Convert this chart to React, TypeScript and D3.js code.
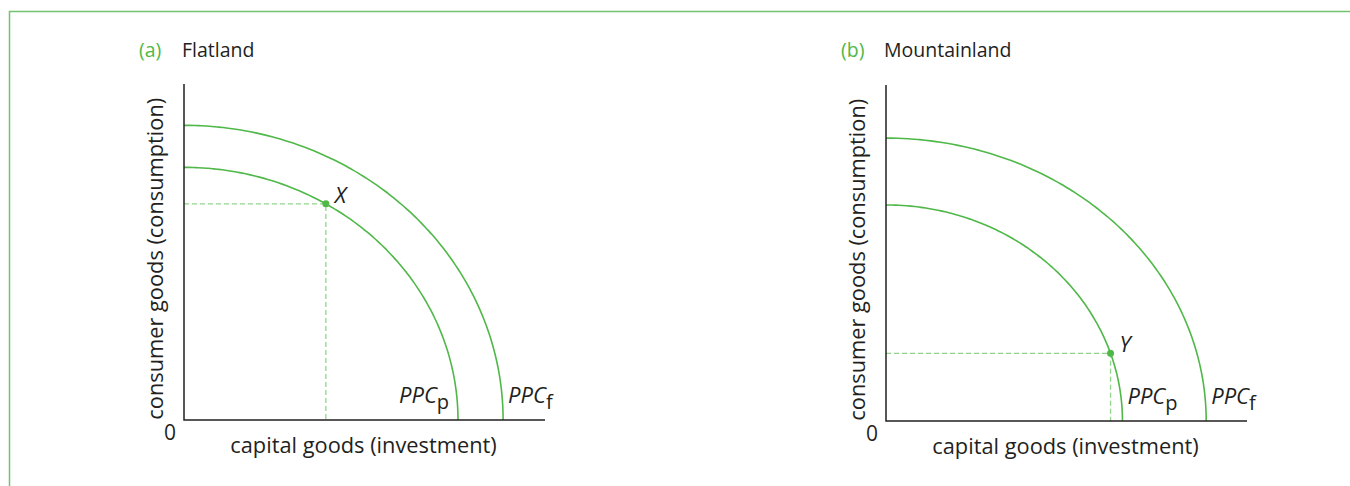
import { useEffect, useRef } from "react";
import * as d3 from "d3";

// Each panel: PPC intercepts in axis units (0-100 on both axes)
const PANEL_IDS = ["a", "b"];
const PANEL_TITLES = ["Flatland", "Mountainland"];
const PPC_NAMES = ["PPC", "PPC"];
const PPC_SUBS = ["p", "f"];
// [present, future] x-intercepts and y-intercepts
const X_INTERCEPTS = [
  [75.9, 88.4],
  [65.5, 88.7],
];
const Y_INTERCEPTS = [
  [75.2, 87.7],
  [64.3, 84.2],
];
// point on the present curve (x value; y follows from the curve)
const POINT_LABELS = ["X", "Y"];
const POINT_X = [39.3, 62.2];

const X_TITLE = "capital goods (investment)";
const Y_TITLE = "consumer goods (consumption)";

const GREEN = "#4fb848";
const LIGHT_GREEN = "#8fd68a";
const INK = "#231f20";
const FONT = "'Open Sans', 'Noto Sans', sans-serif";

export default function App() {
  const svgRef = useRef<SVGSVGElement | null>(null);

  useEffect(() => {
    const width = 1350;
    const height = 486;
    const svg = d3.select(svgRef.current);
    svg.selectAll("*").remove();
    svg.attr("width", width).attr("height", height);

    // frame (top and left rule)
    svg.append("path")
      .attr("d", `M9.5,${height} V11.5 H${width}`)
      .attr("fill", "none")
      .attr("stroke", "#72c36e")
      .attr("stroke-width", 1.5);

    const origins = [
      { x: 184, y: 420 },
      { x: 886, y: 421 },
    ];
    const axisW = 361;
    const axisH = 336;

    PANEL_IDS.forEach((id, i) => {
      const o = origins[i];
      const g = svg.append("g").attr("transform", `translate(${o.x},${o.y})`);

      const x = d3.scaleLinear().domain([0, 100]).range([0, axisW]);
      const y = d3.scaleLinear().domain([0, 100]).range([0, -axisH]);

      // panel heading
      svg.append("text")
        .attr("x", o.x - 45)
        .attr("y", 57)
        .attr("font-family", FONT)
        .attr("font-size", 19.5)
        .attr("fill", GREEN)
        .text(`(${id})`);
      svg.append("text")
        .attr("x", o.x - 2)
        .attr("y", 57)
        .attr("font-family", FONT)
        .attr("font-size", 19.5)
        .attr("fill", INK)
        .text(PANEL_TITLES[i]);

      // curves (quarter ellipses)
      const curvePts = (k: number) =>
        d3.range(0, 91).map((deg) => {
          const t = (deg * Math.PI) / 180;
          return [X_INTERCEPTS[i][k] * Math.sin(t), Y_INTERCEPTS[i][k] * Math.cos(t)] as [number, number];
        });
      const line = d3.line<[number, number]>()
        .x((d) => x(d[0]))
        .y((d) => y(d[1]))
        .curve(d3.curveBasis);

      [0, 1].forEach((k) => {
        g.append("path")
          .datum(curvePts(k))
          .attr("d", line)
          .attr("fill", "none")
          .attr("stroke", GREEN)
          .attr("stroke-width", 1.6);
      });

      // point on present curve
      const px = POINT_X[i];
      const a = X_INTERCEPTS[i][0];
      const b = Y_INTERCEPTS[i][0];
      const py = b * Math.sqrt(1 - (px / a) * (px / a));

      g.append("path")
        .attr("d", `M${x(0)},${y(py)} H${x(px)} V${y(0)}`)
        .attr("fill", "none")
        .attr("stroke", LIGHT_GREEN)
        .attr("stroke-width", 1.3)
        .attr("stroke-dasharray", "5,3");

      g.append("circle")
        .attr("cx", x(px))
        .attr("cy", y(py))
        .attr("r", 3.5)
        .attr("fill", GREEN);

      g.append("text")
        .attr("x", x(px) + 9)
        .attr("y", y(py) - 1)
        .attr("font-family", FONT)
        .attr("font-style", "italic")
        .attr("font-size", 22)
        .attr("fill", INK)
        .text(POINT_LABELS[i]);

      // axes
      g.append("path")
        .attr("d", `M${x(0)},${y(100)} V${y(0)} H${x(100)}`)
        .attr("fill", "none")
        .attr("stroke", INK)
        .attr("stroke-width", 1.5);

      g.append("text")
        .attr("x", -8)
        .attr("y", 20)
        .attr("text-anchor", "end")
        .attr("font-family", FONT)
        .attr("font-size", 21)
        .attr("fill", INK)
        .text("0");

      g.append("text")
        .attr("x", x(50) - 1)
        .attr("y", 33)
        .attr("text-anchor", "middle")
        .attr("font-family", FONT)
        .attr("font-size", 21.8)
        .attr("fill", INK)
        .text(X_TITLE);

      g.append("text")
        .attr("transform", `translate(-21,${y(48)}) rotate(-90)`)
        .attr("text-anchor", "middle")
        .attr("font-family", FONT)
        .attr("font-size", 21.8)
        .attr("fill", INK)
        .text(Y_TITLE);

      // PPC labels
      [0, 1].forEach((k) => {
        const t = g.append("text")
          .attr("x", x(X_INTERCEPTS[i][k]) + (k === 0 && i === 0 ? -59 : 5))
          .attr("y", -17)
          .attr("font-family", FONT)
          .attr("font-size", 22)
          .attr("fill", INK);
        t.append("tspan").attr("font-style", "italic").text(PPC_NAMES[k]);
        t.append("tspan").attr("dy", 6).attr("font-size", 20).text(PPC_SUBS[k]);
      });
    });
  }, []);

  return (
    <svg
      ref={svgRef}
      style={{ position: "absolute", left: 0, top: 0, background: "#fff" }}
    />
  );
}
